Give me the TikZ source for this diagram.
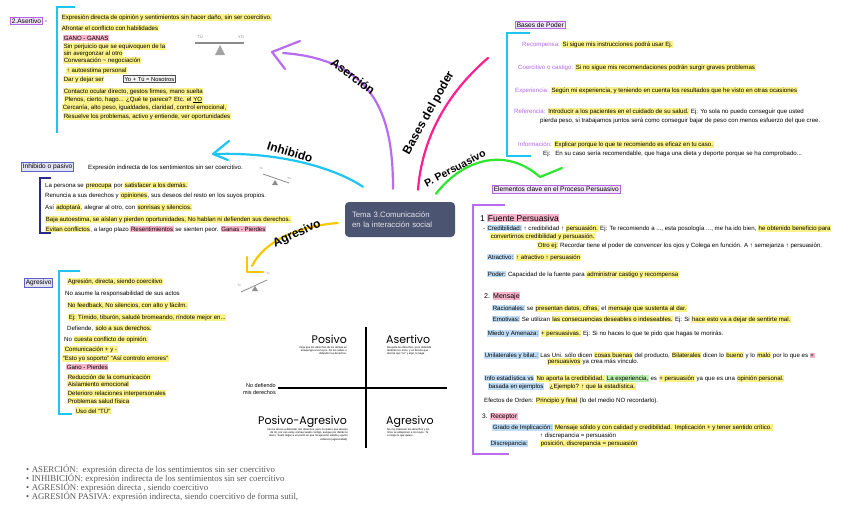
\documentclass[tikz,border=0pt]{standalone}
\usepackage{fontspec}
\setmainfont{Liberation Sans}
\newfontfamily\serifF{Liberation Serif}
\newfontfamily\quadF{Poppins}
\usetikzlibrary{calc}
\definecolor{hly}{HTML}{FCF28A}
\definecolor{hlp}{HTML}{F7B3C9}
\definecolor{hlb}{HTML}{BFDDF7}
\definecolor{hlg}{HTML}{B9F0B0}
\definecolor{cPur}{HTML}{B86CF0}
\definecolor{cPink}{HTML}{FF1F8E}
\definecolor{cGreen}{HTML}{2EE62E}
\definecolor{cCyan}{HTML}{1EC4F2}
\definecolor{cYel}{HTML}{F7C800}
\definecolor{cNavy}{HTML}{2A2A8A}
\definecolor{cBoxB}{HTML}{5E62C4}
\definecolor{lbl}{HTML}{B366E6}
\definecolor{slate}{HTML}{4B5572}
\definecolor{seesaw}{HTML}{8C8C8C}
\definecolor{btxt}{HTML}{5A5A5A}
\newcommand\HLy[1]{{\setlength{\fboxsep}{0.6pt}\colorbox{hly}{#1}}}
\newcommand\HLp[1]{{\setlength{\fboxsep}{0.6pt}\colorbox{hlp}{#1}}}
\newcommand\HLb[1]{{\setlength{\fboxsep}{0.6pt}\colorbox{hlb}{#1}}}
\newcommand\HLg[1]{{\setlength{\fboxsep}{0.6pt}\colorbox{hlg}{#1}}}
\newcommand\LB[1]{\textcolor{lbl}{#1}}
\tikzset{
  hand/.style={anchor=base west, inner sep=0pt, font=\fontsize{6.1}{7}\selectfont},
  lbox/.style={draw=#1, fill=#1!18, line width=0.8pt, inner sep=1.4pt, anchor=west, font=\fontsize{6.6}{7}\selectfont},
  branch/.style={line width=2.2pt, line cap=round, line join=round, draw=#1},
  blabel/.style={inner sep=0pt, font=\bfseries\fontsize{12}{12}\selectfont},
  bracket/.style={line width=1.6pt, draw=#1},
  quadtitle/.style={inner sep=0pt, font=\quadF\fontsize{11}{11}\selectfont},
  quadsmall/.style={inner sep=0pt, font=\fontsize{2.7}{3.3}\selectfont},
  sslabel/.style={inner sep=0pt, text=seesaw, font=\fontsize{4}{4}\selectfont},
  bullet/.style={anchor=base west, inner sep=0pt, text=btxt, font=\serifF\fontsize{8.8}{9}\selectfont}
}
\begin{document}
\begin{tikzpicture}[x=1pt,y=-1pt]
\useasboundingbox (0,0) rectangle (848,530);
\fill[white] (0,0) rectangle (848,530);

% ---------- centre ----------
\node[fill=slate, rounded corners=4pt, minimum width=110pt, minimum height=35pt,
      text width=96pt, align=left, text=white!85!slate,
      font=\fontsize{7.8}{9.5}\selectfont] (center) at (400,219.5)
      {Tema 3.Comunicación\\en la interacción social};

\coordinate (asS) at ($(center.north)+(-7,-13)$);
\coordinate (bpS) at ($(center.north)+(18,-12)$);
\coordinate (ppS) at ($(center.north)+(36,-8)$);
\coordinate (inS) at ($(center.north)+(-37,-15)$);
\coordinate (agS) at ($(center.west)+(-7,3.5)$);
\coordinate (asE) at (283,53);
\coordinate (asV) at (272,52);
\coordinate (bpE) at (488,58);
\coordinate (ppE) at (540,177);
\coordinate (inE) at (216,154);
\coordinate (inV) at (213,154);
\coordinate (agE) at (252,266);
\coordinate (agV) at (247,272);

% ---------- branches ----------
\draw[branch=cPur] (asS) .. controls (393,120) and (378,60) .. (asE);
\draw[branch=cPur] (asV) ++(28,-11) -- (asV) -- ++(13,17);
\node[blabel, rotate=-37] (asL) at (353,76) {Aserción};

\draw[branch=cPink] (bpS) .. controls (422,140) and (445,95) .. (bpE);
\node[blabel, rotate=61] (bpL) at (429,113) {Bases del poder};

\draw[branch=cGreen] (ppS) .. controls (462,160) and (505,146) .. (ppE) -- (562,168);
\node[blabel, rotate=28, font=\bfseries\fontsize{10.5}{10.5}\selectfont] (ppL) at (455,168) {P. Persuasivo};

\draw[branch=cCyan] (inS) .. controls (335,168) and (280,152) .. (inE);
\draw[branch=cCyan] (inV) ++(16,-13) -- (inV) -- ++(15,6);
\node[blabel, rotate=-17] (inL) at (290,152) {Inhibido};

\draw[branch=cYel] (agS) .. controls (300,226) and (265,240) .. (agE);
\draw[branch=cYel] (agV) ++(0,-15) -- (agV) -- ++(16,0);
\node[blabel, rotate=25] (agL) at (297,234) {Agresivo};

% ---------- seesaws ----------
\node[sslabel] (ss1a) at (200,37) {TÚ};
\node[sslabel] (ss1b) at (241,37) {YO};
\draw[seesaw, line width=1.2pt] (195,43) -- (244,43);
\fill[seesaw!80] (220,45) -- (215,55) -- (225,55) -- cycle;

\node[sslabel, font=\fontsize{3}{3}\selectfont] (ss2a) at (261,168) {Tú};
\node[sslabel, font=\fontsize{3}{3}\selectfont] (ss2b) at (289,178) {Yo};
\draw[seesaw, line width=0.8pt] (263,174) -- (289,183);
\fill[seesaw] (275,180) -- (272,185) -- (278,185) -- cycle;

\node[sslabel, font=\fontsize{3}{3}\selectfont] (ss3a) at (239,285) {Tú};
\node[sslabel, font=\fontsize{3}{3}\selectfont] (ss3b) at (268,273) {Yo};
\draw[seesaw, line width=0.8pt] (241,292) -- (267,280);
\fill[seesaw] (255,286) -- (252,291) -- (258,291) -- cycle;

% ---------- top-left: asertivo ----------
\node[lbox=lbl] (asBox) at (10,21) {2.Asertivo};
\fill[lbl] (46,21) circle (0.9pt);
\draw[bracket=cCyan] (75,7) -- (57,7) -- (57,133);
\node[hand] (t1) at (61,19) {\HLy{Expresión directa de opinión y sentimientos sin hacer daño, sin ser coercitivo.}};
\node[hand] (t2) at (61,30) {\HLy{Afrontar el conflicto con habilidades}};
\node[hand] (t3) at (63,40) {\HLp{GANO - GANAS}};
\node[hand] (t4) at (63,48.5) {\HLy{Sin perjuicio que se equivoquen de la}};
\node[hand] (t5) at (63,55.5) {\HLy{sin avergonzar al otro}};
\node[hand] (t6) at (63,62.5) {\HLy{Conversación \textasciitilde{} negociación}};
\node[hand] (t7) at (66,72) {\HLy{↑ autoestima personal}};
\node[hand] (t8) at (63,81) {\HLy{Dar y dejar ser}};
\node[draw=black!70, fill=black!5, line width=0.6pt, inner sep=1.3pt, anchor=west,
      font=\fontsize{5.8}{6}\selectfont] (t8b) at (123,79) {Yo + Tú = Nosotros};
\node[hand] (t9) at (63,93) {\HLy{Contacto ocular directo, gestos firmes, mano suelta}};
\node[hand] (t10) at (64,101) {\HLy{Plenos, cierto, hago... ¿Qué te parece? Etc. el \underline{YO}}};
\node[hand] (t11) at (62,109) {\HLy{Cercanía, alto peso, igualdades, claridad, control emocional,}};
\node[hand] (t12) at (63,118) {\HLy{Resuelve los problemas, activo y entiende, ver oportunidades}};

% ---------- inhibido ----------
\node[lbox=cBoxB] (ibBox) at (21,167) {Inhibido o pasivo};
\node[hand] (i0) at (88,169) {Expresión indirecta de los sentimientos sin ser coercitivo.};
\draw[bracket=cNavy] (51,178) -- (40,178) -- (40,233) -- (51,233);
\node[hand] (i1) at (45,187) {La persona se \HLy{preocupa} por \HLy{satisfacer a los demás.}};
\node[hand] (i2) at (45,197) {Renuncia a sus derechos y \HLy{opiniones}, sus deseos del resto en los suyos propios.};
\node[hand] (i3) at (45,209) {Así \HLy{adoptará}, alegrar al otro, con \HLy{sonrisas y silencios.}};
\node[hand] (i4) at (45,221) {\HLy{Baja autoestima, se aíslan y pierden oportunidades, No hablan ni defienden sus derechos.}};
\node[hand] (i5) at (45,231) {\HLy{Evitan conflictos}, a largo plazo \HLp{Resentimientos} se sienten peor. \HLp{Ganas - Pierdes}};

% ---------- agresivo ----------
\node[lbox=cBoxB] (agBox) at (24,283) {Agresivo};
\draw[bracket=cCyan] (80,271) -- (59,271) -- (59,414) -- (72,414);
\node[hand] (a1) at (67,283) {\HLy{Agresión, directa, siendo coercitivo}};
\node[hand] (a2) at (65,295) {No asume la responsabilidad de sus actos};
\node[hand] (a3) at (67,307) {\HLy{No feedback, No silencios, con alto y fácilm.}};
\node[hand] (a4) at (68,319) {\HLy{Ej: Tímido, tiburón, saludé bromeando, ríndote mejor en...}};
\node[hand] (a5) at (67,330) {Defiende, \HLy{solo a sus derechos.}};
\node[hand] (a6) at (64,341) {No \HLy{cuesta conflicto de opinión.}};
\node[hand] (a7) at (64,351) {\HLy{Comunicación + y -}};
\node[hand] (a8) at (62,360) {\HLy{“Esto yo soporto” “Así controlo errores”}};
\node[hand] (a9) at (66,369) {\HLp{Gano - Pierdes}};
\node[hand] (a10) at (67,379) {\HLy{Reducción de la comunicación}};
\node[hand] (a11) at (67,386) {\HLy{Aislamiento emocional}};
\node[hand] (a12) at (67,395) {\HLy{Deterioro relaciones interpersonales}};
\node[hand] (a13) at (67,403) {\HLy{Problemas salud física}};
\node[hand] (a14) at (75,413) {\HLy{Uso del “TÚ”}};

% ---------- quadrant ----------
\draw[line width=1.8pt] (366,327) -- (366,448);
\draw[line width=1.8pt] (278,388) -- (447,388);
\node[quadtitle, anchor=base east] (qP) at (347,343) {Posivo};
\node[quadsmall, anchor=north east, align=right] (qPs) at (347,346)
  {Deja que los derechos de los demás se\\anteponga a los tuyos. No los sabes o\\defender tus derechos.};
\node[quadtitle, anchor=base west] (qA) at (386,343) {Asertivo};
\node[quadsmall, anchor=north west, align=left] (qAs) at (387,346)
  {Respeta tus derechos, pero defiende\\también los míos, y sé decirte que\\decirte que “no” y algo, lo haga};
\node[inner sep=0pt, anchor=east, align=right, font=\fontsize{5.5}{7}\selectfont] (qN) at (276,389)
  {No defiendo\\mis derechos};
\node[quadtitle, anchor=base east] (qPA) at (347,424) {Posivo-Agresivo};
\node[quadsmall, anchor=north east, align=right] (qPAs) at (348,428)
  {No me atrevo a defender mis derechos, pero no quiero que abuses\\de mí, por eso estoy enmascarado contigo, aunque por detrás te\\ataco. Suelo llegar a un punto en que mi agresión estalla y ejerzo\\violencia (agresividad).};
\node[quadtitle, anchor=base west] (qG) at (386,424) {Agresivo};
\node[quadsmall, anchor=north west, align=left] (qGs) at (387,428)
  {No me interesan tus derechos y los\\míos se anteponen a los tuyos. Te\\consigo lo que quiero.};

% ---------- bottom definitions ----------
\node[bullet] (b1) at (26,472.5) {•\hspace{2.5pt}ASERCIÓN:\ \ expresión directa de los sentimientos sin ser coercitivo};
\node[bullet] (b2) at (26,481.5) {•\hspace{2.5pt}INHIBICIÓN: expresión indirecta de los sentimientos sin ser coercitivo};
\node[bullet] (b3) at (26,490.5) {•\hspace{2.5pt}AGRESIÓN: expresión directa , siendo coercitivo};
\node[bullet] (b4) at (26,499.5) {•\hspace{2.5pt}AGRESIÓN PASIVA: expresión indirecta, siendo coercitivo de forma sutil,};

% ---------- bases de poder ----------
\node[lbox=lbl] (bpBox) at (515,25) {Bases de Poder};
\draw[bracket=cCyan] (530,33) -- (507,33) -- (507,156) -- (531,156);
\node[hand] (r1) at (522,46) {\LB{Recompensa:} \HLy{Si sigue mis instrucciones podrá usar Ej.}};
\node[hand] (r2) at (518,69) {\LB{Coercitivo o castigo:} \HLy{Si no sigue mis recomendaciones podrán surgir graves problemas}};
\node[hand] (r3) at (515,92) {\LB{Experiencia:} \HLy{Según mi experiencia, y teniendo en cuenta los resultados que he visto en otras ocasiones}};
\node[hand] (r4) at (514,113) {\LB{Referencia:} \HLy{Introducir a los pacientes en el cuidado de su salud.} Ej: Yo sola no puedo conseguir que usted};
\node[hand] (r4b) at (540,122) {pierda peso, si trabajamos juntos será como conseguir bajar de peso con menos esfuerzo del que cree.};
\node[hand] (r5) at (518,146) {\LB{Información:} \HLy{Explicar porque lo que te recomiendo es eficaz en tu caso.}};
\node[hand] (r5b) at (543,155) {Ej:\ \ \ En su caso sería recomendable, que haga una dieta y deporte porque se ha comprobado...};

% ---------- persuasivo ----------
\node[lbox=lbl] (epBox) at (492,189.5) {Elementos clave en el Proceso Persuasivo};
\draw[bracket=cPur] (505,205) -- (473,205) -- (473,454) -- (509,454);
\node[hand, font=\fontsize{8.5}{9}\selectfont] (p1) at (480,221) {1 \HLp{Fuente Persuasiva}};
\node[hand] (p2) at (483,230) {- \HLb{Credibilidad:} ↑ credibilidad ↑ \HLy{persuasión.} Ej: Te recomiendo a ..., esta posología ..., me ha ido bien, \HLy{he obtenido beneficio para}};
\node[hand] (p3) at (490,238) {\HLy{convertirnos credibilidad y persuasión.}};
\node[hand] (p4) at (537,247) {\HLy{Otro ej:} Recordar tiene el poder de convencer los ojos y Colega en función. A ↑ semejanza ↑ persuasión.};
\node[hand] (p5) at (487,259) {\HLb{Atractivo:} \HLy{↑ atractivo ↑ persuasión}};
\node[hand] (p6) at (487,276) {\HLb{Poder:} Capacidad de la fuente para \HLy{administrar castigo y recompensa}};
\node[hand, font=\fontsize{7}{7}\selectfont] (p7) at (484,298) {2. \HLp{Mensaje}};
\node[hand] (p8) at (492,310) {\HLb{Racionales:} se \HLy{presentan datos, cifras,} el \HLy{mensaje que sustenta al dar.}};
\node[hand] (p9) at (492,321) {\HLb{Emotivas:} Se utilizan \HLy{las consecuencias deseables o indeseables.} Ej: Si \HLy{hace esto va a dejar de sentirte mal.}};
\node[hand] (p10) at (487,335) {\HLb{Miedo y Amenaza:} \HLy{+ persuasivas.} Ej: Si no haces lo que te pido que hagas te morirás.};
\node[hand] (p11) at (484,357) {\HLb{Unilaterales y bilat.:} Las Uni. sólo dicen \HLy{cosas buenas} del producto, \HLy{Bilaterales} dicen lo \HLy{bueno} y lo \HLy{malo} por lo que es \HLp{+}};
\node[hand] (p12) at (547,363) {\HLy{persuasivos} ya crea más vínculo.};
\node[hand] (p13) at (484,380) {\HLb{Info estadística vs} \HLy{No aporta la credibilidad.} \HLg{La experiencia,} es \HLy{+ persuasión} ya que es una \HLy{opinión personal.}};
\node[hand] (p14) at (488,388) {\HLb{basada en ejemplos}};
\node[hand] (p14b) at (549,388) {\HLy{¿Ejemplo? ↑ que la estadística.}};
\node[hand] (p15) at (484,402) {Efectos de Orden: \HLy{Principio y final} (lo del medio NO recordarlo).};
\node[hand, font=\fontsize{6.5}{7}\selectfont] (p16) at (482,418) {3. \HLp{Receptor}};
\node[hand] (p17) at (492,429) {\HLb{Grado de Implicación:} \HLy{Mensaje sólido y con calidad y credibilidad.} \HLy{Implicación + y tener sentido crítico.}};
\node[hand] (p18) at (540,437) {↑ discrepancia = persuasión};
\node[hand] (p19) at (490,445) {\HLb{Discrepancia:}};
\node[hand] (p19b) at (540,445) {\HLy{posición, discrepancia = persuasión}};
\end{tikzpicture}
\end{document}
